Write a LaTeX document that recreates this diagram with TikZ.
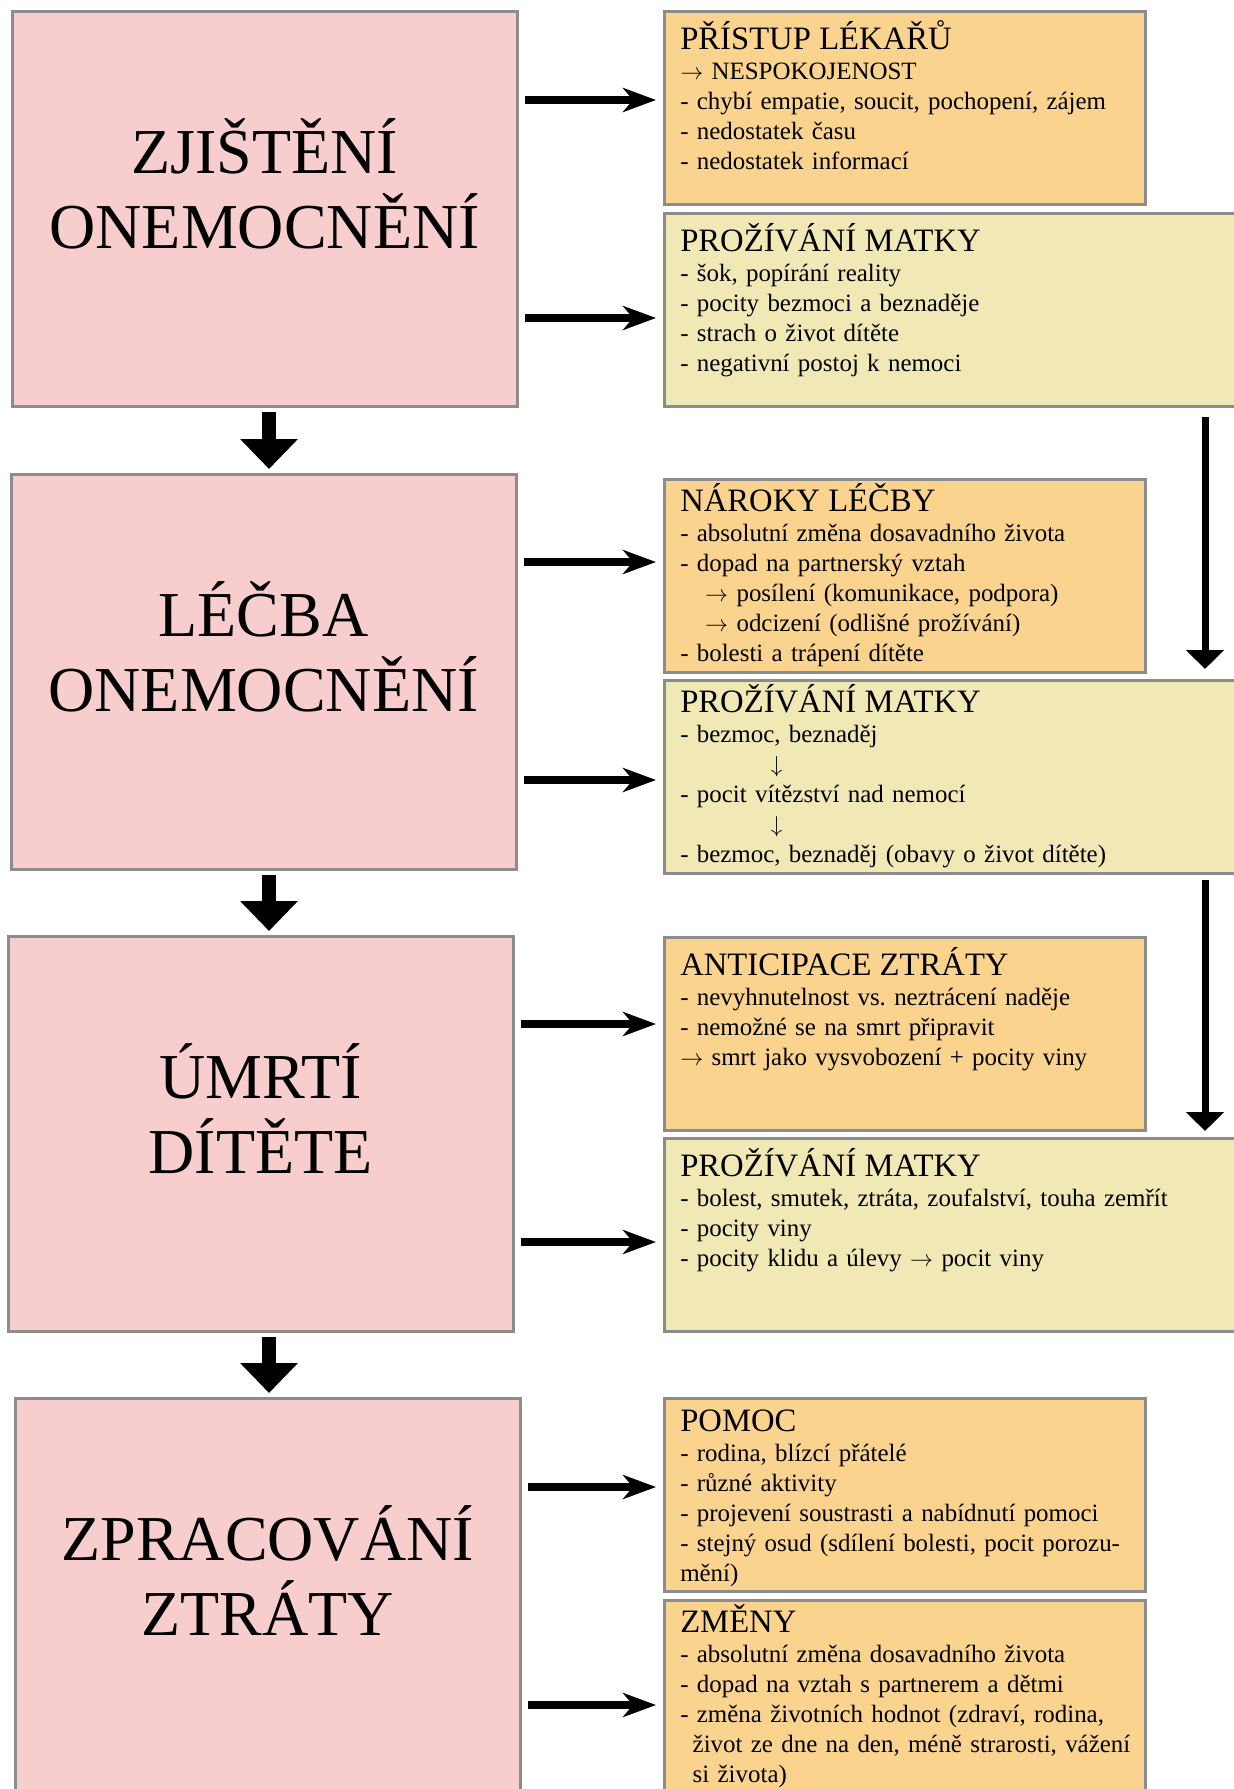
\documentclass[tikz,border=0pt]{standalone}
\usepackage{fontspec}
\setmainfont{Liberation Serif}
\usetikzlibrary{arrows.meta}
\definecolor{pinkfill}{RGB}{247,205,206}
\definecolor{orangefill}{RGB}{250,211,143}
\definecolor{yellowfill}{RGB}{240,233,182}
\definecolor{boxline}{RGB}{140,140,140}
\newcommand{\boxhead}[1]{{\fontsize{24.5}{22.5}\selectfont #1}}
\newcommand{\rarr}{$\rightarrow$}
\newcommand{\darr}{$\downarrow$}
\begin{document}
\frenchspacing
\begin{tikzpicture}[x=0.75pt, y=-0.75pt,
  box/.style={draw=boxline, line width=2.25pt, anchor=north west, inner sep=0pt, outer sep=0pt},
  leftbox/.style={box, fill=pinkfill, minimum width=379pt, minimum height=296.25pt},
  narrowbox/.style={box, fill=orangefill, minimum width=360.75pt, minimum height=144.75pt},
  widebox/.style={box, fill=yellowfill, minimum width=439.5pt, minimum height=144.75pt},
  title/.style={anchor=base, text width=370pt, align=center, inner sep=0pt, font=\fontsize{48}{56.25}\selectfont},
  body/.style={anchor=base west, text width=420pt, align=left, inner sep=0pt, font=\fontsize{18.7}{22.5}\selectfont},
  harrow/.style={line width=6pt, -{Stealth[length=24.75pt, width=18pt, inset=7.5pt]}, shorten <=6pt, shorten >=6pt},
  varrow/.style={line width=10.5pt, -{Triangle[length=22.5pt, width=42pt]}, shorten <=4.5pt, shorten >=3.75pt},
  rarrow/.style={line width=5.25pt, -{Triangle[length=14.25pt, width=27.75pt]}}]
\useasboundingbox (0,0) rectangle (1234,1789);
\clip (0,0) rectangle (1234,1789);
\node[leftbox] (L_0) at (12,11) {};
\node[leftbox] (L_1) at (11,474) {};
\node[leftbox] (L_2) at (8,936) {};
\node[leftbox, minimum height=301.5pt] (L_3) at (15,1398) {};
\node[narrowbox] (R_0_0) at (664,11) {};
\node[widebox] (R_0_1) at (664,213) {};
\node[narrowbox] (R_1_0) at (664,479) {};
\node[widebox] (R_1_1) at (664,680) {};
\node[narrowbox] (R_2_0) at (664,937) {};
\node[widebox] (R_2_1) at (664,1138) {};
\node[narrowbox] (R_3_0) at (664,1398) {};
\node[narrowbox, minimum height=150pt] (R_3_1) at (664,1600) {};
\node[title] (T_0) at ([shift={(0,162)}]L_0.north) {ZJIŠTĚNÍ\\ONEMOCNĚNÍ};
\node[title] (T_1) at ([shift={(0,162)}]L_1.north) {LÉČBA\\ONEMOCNĚNÍ};
\node[title] (T_2) at ([shift={(0,162)}]L_2.north) {ÚMRTÍ\\DÍTĚTE};
\node[title] (T_3) at ([shift={(0,162)}]L_3.north) {ZPRACOVÁNÍ\\ZTRÁTY};
\node[body] (X_0_0) at ([shift={(16,38)}]R_0_0.north west) {\boxhead{PŘÍSTUP LÉKAŘŮ}\\\rarr{} NESPOKOJENOST\\- chybí empatie, soucit, pochopení, zájem\\- nedostatek času\\- nedostatek informací};
\node[body] (X_0_1) at ([shift={(16,38)}]R_0_1.north west) {\boxhead{PROŽÍVÁNÍ MATKY}\\- šok, popírání reality\\- pocity bezmoci a beznaděje\\- strach o život dítěte\\- negativní postoj k nemoci};
\node[body] (X_1_0) at ([shift={(16,32)}]R_1_0.north west) {\boxhead{NÁROKY LÉČBY}\\- absolutní změna dosavadního života\\- dopad na partnerský vztah\\\hspace*{1em}\rarr{} posílení (komunikace, podpora)\\\hspace*{1em}\rarr{} odcizení (odlišné prožívání)\\- bolesti a trápení dítěte};
\node[body] (X_1_1) at ([shift={(16,32)}]R_1_1.north west) {\boxhead{PROŽÍVÁNÍ MATKY}\\- bezmoc, beznaděj\\\hspace*{68pt}\darr\\- pocit vítězství nad nemocí\\\hspace*{68pt}\darr\\- bezmoc, beznaděj (obavy o život dítěte)};
\node[body] (X_2_0) at ([shift={(16,38)}]R_2_0.north west) {\boxhead{ANTICIPACE ZTRÁTY}\\- nevyhnutelnost vs. neztrácení naděje\\- nemožné se na smrt připravit\\\rarr{} smrt jako vysvobození + pocity viny};
\node[body] (X_2_1) at ([shift={(16,38)}]R_2_1.north west) {\boxhead{PROŽÍVÁNÍ MATKY}\\- bolest, smutek, ztráta, zoufalství, touha zemřít\\- pocity viny\\- pocity klidu a úlevy \rarr{} pocit viny};
\node[body] (X_3_0) at ([shift={(16,33)}]R_3_0.north west) {\boxhead{POMOC}\\- rodina, blízcí přátelé\\- různé aktivity\\- projevení soustrasti a nabídnutí pomoci\\- stejný osud (sdílení bolesti, pocit porozu-\\mění)};
\node[body] (X_3_1) at ([shift={(16,32)}]R_3_1.north west) {\boxhead{ZMĚNY}\\- absolutní změna dosavadního života\\- dopad na vztah s partnerem a dětmi\\- změna životních hodnot (zdraví, rodina,\\\hspace*{0.5em}život ze dne na den, méně strarosti, vážení\\\hspace*{0.5em}si života)};
\draw[harrow] (L_0.east |- 0,100) -- (R_0_0.west |- 0,100);
\draw[harrow] (L_0.east |- 0,318) -- (R_0_1.west |- 0,318);
\draw[harrow] (L_1.east |- 0,562) -- (R_1_0.west |- 0,562);
\draw[harrow] (L_1.east |- 0,780) -- (R_1_1.west |- 0,780);
\draw[harrow] (L_2.east |- 0,1024) -- (R_2_0.west |- 0,1024);
\draw[harrow] (L_2.east |- 0,1242) -- (R_2_1.west |- 0,1242);
\draw[harrow] (L_3.east |- 0,1487) -- (R_3_0.west |- 0,1487);
\draw[harrow] (L_3.east |- 0,1705) -- (R_3_1.west |- 0,1705);
\draw[varrow] (L_0.south -| 269,0) -- (L_1.north -| 269,0);
\draw[varrow] (L_1.south -| 269,0) -- (L_2.north -| 269,0);
\draw[varrow] (L_2.south -| 269,0) -- (L_3.north -| 269,0);
\draw[rarrow, shorten <=8.25pt, shorten >=8.25pt] (R_0_1.south -| 1205,0) -- (R_1_1.north -| 1205,0);
\draw[rarrow, shorten <=5.25pt, shorten >=5.25pt] (R_1_1.south -| 1205,0) -- (R_2_1.north -| 1205,0);
\end{tikzpicture}
\end{document}
